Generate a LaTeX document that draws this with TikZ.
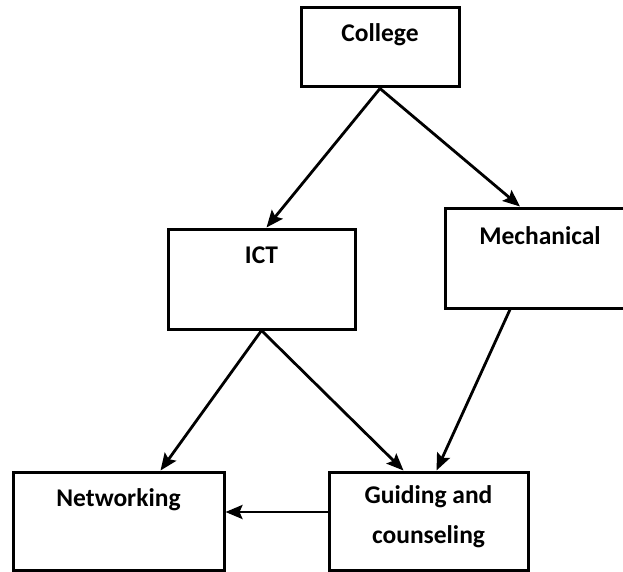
\documentclass[tikz,border=0pt]{standalone}
\usepackage{fontspec}
\setmainfont{Carlito}
\usetikzlibrary{arrows.meta,positioning}

\begin{document}
\begin{tikzpicture}[x=1pt,y=-1pt,
    box/.style={rectangle, draw, line width=3pt, inner sep=0pt},
    lbl/.style={inner sep=0pt, align=center, font=\fontsize{25.5}{40}\selectfont\bfseries},
    arrow/.style={line width=2.8pt, -{Stealth[length=17pt,width=14pt,inset=3pt]}}
]
\useasboundingbox (0,0) rectangle (623,572);
\clip (0,0) rectangle (623,572);

% Boxes
\node[box, minimum width=158pt, minimum height=79pt] (college) at (380,47.5) {};
\node[box, minimum width=187pt, minimum height=100pt] (ict) at (261.5,279) {};
\node[box, minimum width=190pt, minimum height=100pt] (mech) at (540,258) {};
\node[box, minimum width=211pt, minimum height=98pt] (net) at (118.5,521) {};
\node[box, minimum width=199pt, minimum height=98pt] (guide) at (428.5,521) {};

% Texts
\node[lbl] (college-t) at ([yshift=-28pt]college.north) {College};
\node[lbl] (ict-t) at ([yshift=-28pt]ict.north) {ICT};
\node[lbl] (mech-t) at ([yshift=-29pt]mech.north) {Mechanical};
\node[lbl] (net-t) at ([yshift=-29pt]net.north) {Networking};
\node[lbl] (guide-t) at ([yshift=-46pt]guide.north) {Guiding and\\counseling};

% Links
\draw[arrow] (college.south) -- ([xshift=5pt]ict.north);
\draw[arrow] (college.south) -- ([xshift=-20pt]mech.north);
\draw[arrow] (ict.south) -- ([xshift=42pt]net.north);
\draw[arrow] (ict.south) -- ([xshift=-25pt]guide.north);
\draw[arrow] ([xshift=-30pt]mech.south) -- ([xshift=8pt]guide.north);
\draw[arrow] ([yshift=9pt]guide.west) -- ([yshift=9pt]net.east);

\end{tikzpicture}
\end{document}
